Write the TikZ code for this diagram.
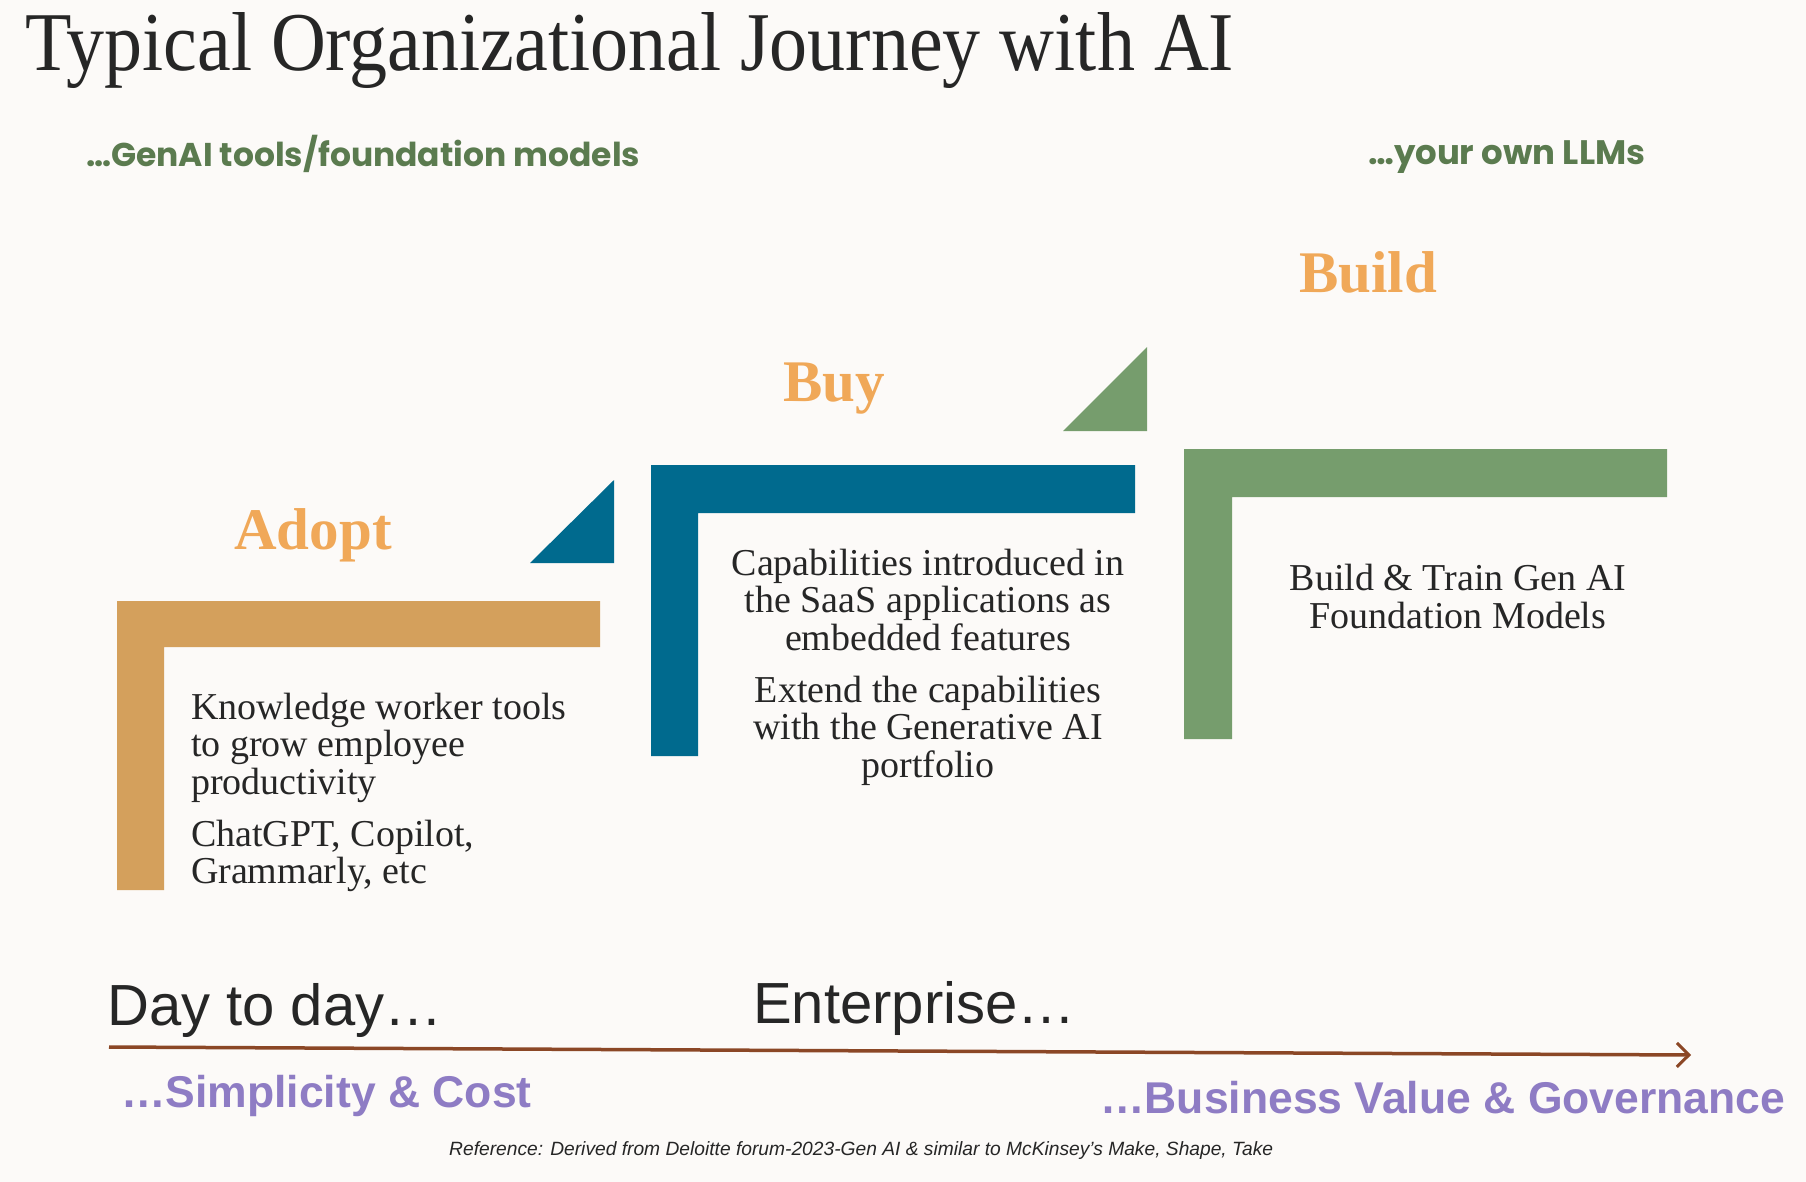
\documentclass[tikz,border=0pt]{standalone}
\usepackage{fontspec}
\setmainfont{Liberation Serif}
\newfontfamily\sansf{Liberation Sans}
\newfontfamily\popp{Poppins}
\usetikzlibrary{arrows.meta}
\definecolor{bg}{RGB}{252,250,248}
\definecolor{tan}{RGB}{212,160,92}
\definecolor{teal}{RGB}{0,106,142}
\definecolor{sage}{RGB}{118,157,109}
\definecolor{orangetxt}{RGB}{240,168,88}
\definecolor{greentxt}{RGB}{91,123,79}
\definecolor{purp}{RGB}{142,124,196}
\definecolor{brownarr}{RGB}{139,71,38}
\definecolor{ink}{RGB}{38,38,38}
\tikzset{
  stagelbl/.style={anchor=base, inner sep=0, text=orangetxt, font=\fontsize{59}{62}\selectfont\bfseries},
  bodytxt/.style={anchor=base, inner sep=0, text=ink, font=\fontsize{38}{37.5}\selectfont},
  bigsans/.style={anchor=base west, inner sep=0, text=ink, font=\sansf\fontsize{58}{60}\selectfont},
  purplbl/.style={anchor=base west, inner sep=0, text=purp, font=\sansf\bfseries\fontsize{44.5}{46}\selectfont},
  greenlbl/.style={anchor=base west, inner sep=0, text=greentxt, font=\popp\bfseries},
}
\begin{document}
\begin{tikzpicture}[x=1pt,y=-1pt]
\fill[bg] (0,0) rectangle (1806,1182);
\useasboundingbox (0,0) rectangle (1806,1182);

% title
\node[anchor=base west, inner sep=0, text=ink, font=\fontsize{76}{80}\selectfont] (title) at (25,71) {\scalebox{1}[1.1]{Typical Organizational Journey with AI}};

% top green labels
\node[greenlbl] (genai) at (86,167) {\resizebox{554pt}{!}{…GenAI tools/foundation models}};
\node[greenlbl] (llms) at (1368,165) {\resizebox{277pt}{!}{…your own LLMs}};

% L shapes
\fill[tan] (117,601) -- (600,601) -- (600,647) -- (164,647) -- (164,890) -- (117,890) -- cycle;
\fill[teal] (651,465) -- (1135,465) -- (1135,513) -- (698,513) -- (698,756) -- (651,756) -- cycle;
\fill[sage] (1184,449) -- (1667,449) -- (1667,497) -- (1232,497) -- (1232,739) -- (1184,739) -- cycle;

% triangles
\fill[teal] (530,563) -- (614,563) -- (614,480) -- cycle;
\fill[sage] (1063,431) -- (1147,431) -- (1147,347) -- cycle;

% stage labels
\node[stagelbl] (adopt) at (313,549) {Adopt};
\node[stagelbl] (buy) at (834,401) {Buy};
\node[stagelbl] (build) at (1368,292) {Build};

% body texts
\node[bodytxt, text width=420pt, align=flush left] (adopttxt) at (401,719)
  {Knowledge worker tools\\to grow employee\\productivity\\[14.5pt]ChatGPT, Copilot,\\Grammarly, etc};
\node[bodytxt, text width=440pt, align=flush center] (buytxt) at (928,575)
  {Capabilities introduced in\\the SaaS applications as\\embedded features\\[14.5pt]Extend the capabilities\\with the Generative AI\\portfolio};
\node[bodytxt, text width=440pt, align=flush center, font=\fontsize{38}{38}\selectfont] (buildtxt) at (1458,590)
  {Build \& Train Gen AI\\Foundation Models};

% bottom
\node[bigsans] (day) at (107,1025) {Day to day…};
\node[bigsans] (ent) at (753,1023) {Enterprise…};
\coordinate (arrs) at (109,1047);
\coordinate (arre) at (1691,1055);
\draw[brownarr, line width=3.5pt, -{Straight Barb[length=12pt,width=24pt,line width=3pt]}] (arrs) -- (arre);
\node[purplbl] (simp) at (121,1107) {…Simplicity \& Cost};
\node[purplbl] (bus) at (1100,1113) {…Business Value \& Governance};
\node[anchor=base west, inner sep=0, text=ink, font=\sansf\itshape] (ref) at (449,1155)
  {\resizebox{824pt}{!}{Reference: Derived from Deloitte forum-2023-Gen AI \& similar to McKinsey’s Make, Shape, Take}};
\end{tikzpicture}
\end{document}
